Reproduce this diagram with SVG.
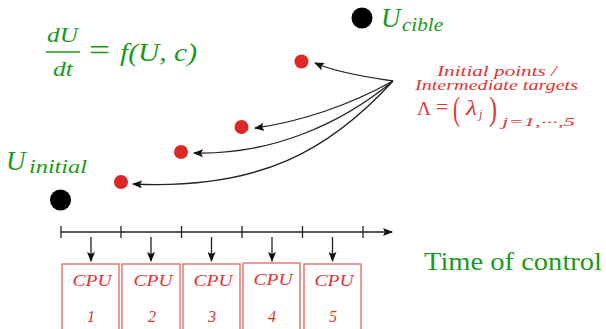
<svg xmlns="http://www.w3.org/2000/svg" width="606" height="329" viewBox="0 0 606 329">
<style>
.g{fill:#1a991a;font-family:"Liberation Serif",serif}
.r{fill:#e03333;font-family:"Liberation Serif",serif}
.it{font-style:italic}
.ln{stroke:#222;stroke-width:1.3;fill:none}
.box{fill:none;stroke:#e06666;stroke-width:1.3}
.dot{fill:#dd2626}
</style>
<defs>
<marker id="ah" viewBox="0 0 10 8" refX="9" refY="4" markerWidth="10" markerHeight="8" markerUnits="userSpaceOnUse" orient="auto">
<path d="M0,0 L10,4 L0,8 L2,4 Z" fill="#111"/>
</marker>
</defs>
<rect width="606" height="329" fill="#fff"/>

<g id="equation">
<text class="g it" x="47" y="42" font-size="22" textLength="31" lengthAdjust="spacingAndGlyphs">dU</text>
<line x1="46" y1="52" x2="80" y2="52" stroke="#1a991a" stroke-width="1.3"/>
<text class="g it" x="53" y="76" font-size="22" textLength="20" lengthAdjust="spacingAndGlyphs">dt</text>
<text class="g" x="89" y="60" font-size="30" textLength="21" lengthAdjust="spacingAndGlyphs">=</text>
<text class="g it" x="120" y="61" font-size="25" textLength="77" lengthAdjust="spacingAndGlyphs">f(U, c)</text>
</g>

<g id="u-cible">
<circle cx="362" cy="18" r="10.5" fill="#000"/>
<text class="g it" x="381" y="27" font-size="27">U</text>
<text class="g it" x="402" y="31" font-size="18" textLength="41" lengthAdjust="spacingAndGlyphs">cible</text>
</g>

<g id="u-initial">
<circle cx="60.5" cy="200" r="10.5" fill="#000"/>
<text class="g it" x="6" y="170" font-size="27">U</text>
<text class="g it" x="29" y="173" font-size="18" textLength="58" lengthAdjust="spacingAndGlyphs">initial</text>
</g>

<g id="points">
<circle class="dot" cx="301.5" cy="61.5" r="7"/>
<circle class="dot" cx="241.5" cy="127" r="7"/>
<circle class="dot" cx="181" cy="152" r="7"/>
<circle class="dot" cx="121" cy="182" r="7"/>
</g>

<g id="label">
<text class="r it" x="437" y="76" font-size="14" textLength="120" lengthAdjust="spacingAndGlyphs">Initial points /</text>
<text class="r it" x="415" y="90" font-size="14" textLength="163" lengthAdjust="spacingAndGlyphs">Intermediate targets</text>
<text class="r" x="417" y="115" font-size="19" textLength="14" lengthAdjust="spacingAndGlyphs">Λ</text>
<text class="r" x="436" y="114" font-size="20" textLength="12" lengthAdjust="spacingAndGlyphs">=</text>
<text class="r" x="453" y="120" font-size="33" textLength="7" lengthAdjust="spacingAndGlyphs">(</text>
<text class="r it" x="466" y="115" font-size="20" textLength="11" lengthAdjust="spacingAndGlyphs">λ</text>
<text class="r it" x="479" y="118" font-size="12">j</text>
<text class="r" x="489" y="120" font-size="33" textLength="8" lengthAdjust="spacingAndGlyphs">)</text>
<text class="r it" x="502" y="126" font-size="13" textLength="73" lengthAdjust="spacingAndGlyphs">j=1,···,5</text>
</g>

<g id="connectors">
<path class="ln" d="M393,81 C365,77 335,72 315,63" marker-end="url(#ah)"/>
<path class="ln" d="M393,81 C350,105 300,122 255,128" marker-end="url(#ah)"/>
<path class="ln" d="M393,81 C340,125 270,155 194,153" marker-end="url(#ah)"/>
<path class="ln" d="M393,81 C330,150 260,190 133,184" marker-end="url(#ah)"/>
<line class="ln" x1="61" y1="232" x2="392" y2="232" marker-end="url(#ah)"/>
<g class="ln">
<line x1="61" y1="226" x2="61" y2="238"/>
<line x1="121" y1="226" x2="121" y2="238"/>
<line x1="181.5" y1="226" x2="181.5" y2="238"/>
<line x1="242" y1="226" x2="242" y2="238"/>
<line x1="302.5" y1="226" x2="302.5" y2="238"/>
<line x1="363" y1="226" x2="363" y2="238"/>
</g>
<line class="ln" x1="91" y1="237" x2="91" y2="261" marker-end="url(#ah)"/>
<line class="ln" x1="151" y1="237" x2="151" y2="261" marker-end="url(#ah)"/>
<line class="ln" x1="211.5" y1="237" x2="211.5" y2="261" marker-end="url(#ah)"/>
<line class="ln" x1="272" y1="237" x2="272" y2="261" marker-end="url(#ah)"/>
<line class="ln" x1="332.5" y1="237" x2="332.5" y2="261" marker-end="url(#ah)"/>
</g>

<text class="g" x="424" y="270" font-size="25" textLength="178" lengthAdjust="spacingAndGlyphs">Time of control</text>

<g id="cpu1"><rect class="box" x="62" y="264" width="57" height="80"/><text class="r it" x="92" y="286" font-size="16" text-anchor="middle" textLength="39" lengthAdjust="spacingAndGlyphs">CPU</text><text class="r it" x="91" y="322" font-size="16" text-anchor="middle">1</text></g>
<g id="cpu2"><rect class="box" x="122" y="264" width="58" height="80"/><text class="r it" x="153" y="286" font-size="16" text-anchor="middle" textLength="39" lengthAdjust="spacingAndGlyphs">CPU</text><text class="r it" x="152" y="322" font-size="16" text-anchor="middle">2</text></g>
<g id="cpu3"><rect class="box" x="183" y="264" width="57" height="80"/><text class="r it" x="213" y="286" font-size="16" text-anchor="middle" textLength="39" lengthAdjust="spacingAndGlyphs">CPU</text><text class="r it" x="212" y="322" font-size="16" text-anchor="middle">3</text></g>
<g id="cpu4"><rect class="box" x="243" y="263" width="57" height="80" stroke="#d43030"/><text class="r it" x="273" y="285" font-size="16" text-anchor="middle" textLength="39" lengthAdjust="spacingAndGlyphs">CPU</text><text class="r it" x="272" y="322" font-size="16" text-anchor="middle">4</text></g>
<g id="cpu5"><rect class="box" x="304" y="264" width="57" height="80"/><text class="r it" x="334" y="286" font-size="16" text-anchor="middle" textLength="39" lengthAdjust="spacingAndGlyphs">CPU</text><text class="r it" x="333" y="322" font-size="16" text-anchor="middle">5</text></g>
</svg>
